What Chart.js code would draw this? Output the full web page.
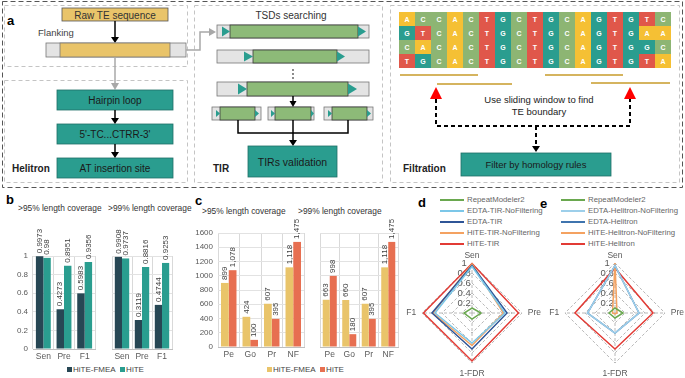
<!DOCTYPE html>
<html>
<head>
<meta charset="utf-8">
<script src="https://cdn.jsdelivr.net/npm/chart.js@4.4.0/dist/chart.umd.min.js"></script>
<style>
  body { margin: 0; background: #fff; }
  #fig { position: relative; width: 685px; height: 378px; background: #fff; overflow: hidden;
         font-family: "Liberation Sans", Arial, sans-serif; color: #333; }
  #fig canvas { position: absolute; }
  .t { position: absolute; white-space: nowrap; line-height: 1; }
  .pl { font-weight: bold; font-size: 13px; color: #000; }
  .ttl { font-size: 8.4px; color: #333; }
  .lg { font-size: 8px; color: #444; }
  .lg i { display: inline-block; width: 5px; height: 5px; margin-right: 1px; vertical-align: 0px; }
  .ll { font-size: 7.8px; color: #666; }
  .ll b { position: absolute; left: -27px; top: 3px; width: 24px; height: 1.5px; }
</style>
</head>
<body>
<div id="fig">
  <svg width="685" height="190" style="position:absolute;left:0;top:0" font-family="Liberation Sans, Arial, sans-serif">
    <rect x="2.5" y="1.5" width="680" height="186" fill="none" stroke="#555" stroke-width="1" stroke-dasharray="5 3"/>
    <g fill="none" stroke="#C4C4C4" stroke-width="1" stroke-dasharray="4 3">
      <rect x="4.5" y="5.5" width="183" height="61"/>
      <rect x="4.5" y="80.5" width="183" height="102"/>
      <rect x="194.5" y="5.5" width="188" height="177"/>
      <rect x="390.5" y="5.5" width="289" height="177"/>
    </g>
    <text x="7" y="25" font-size="13" font-weight="bold">a</text>
    <!-- raw TE -->
    <rect x="62" y="8" width="106" height="13" fill="#E9C46A" stroke="#555" stroke-width="0.8"/>
    <text x="115" y="18.5" font-size="10" text-anchor="middle" fill="#333">Raw TE sequence</text>
    <line x1="115" y1="21" x2="115" y2="37" stroke="#000" stroke-width="1.5"/>
    <polygon points="111,37 119,37 115,43" fill="#000"/>
    <text x="38" y="36" font-size="9.5" fill="#444">Flanking</text>
    <rect x="46" y="43" width="140" height="14" fill="#E4E4E4" stroke="#777" stroke-width="0.8"/>
    <rect x="60" y="43" width="110" height="14" fill="#E9C46A" stroke="#777" stroke-width="0.8"/>
    <line x1="115" y1="57" x2="115" y2="83" stroke="#A8A8A8" stroke-width="1.5"/>
    <polygon points="111,83 119,83 115,90" fill="#A8A8A8"/>
    <polyline points="186,50 200,50 200,32 209,32" fill="none" stroke="#A8A8A8" stroke-width="1.5"/>
    <polygon points="209,28 209,36 216,32" fill="#A8A8A8"/>
    <!-- helitron -->
    <g fill="#2A9D8F" stroke="#1E6F66" stroke-width="0.8">
      <rect x="57" y="90" width="116" height="20"/>
      <rect x="57" y="124" width="116" height="20"/>
      <rect x="57" y="158" width="116" height="20"/>
    </g>
    <g font-size="10" text-anchor="middle" fill="#1a1a1a">
      <text x="115" y="104">Hairpin loop</text>
      <text x="115" y="138">5'-TC...CTRR-3'</text>
      <text x="115" y="172">AT insertion site</text>
    </g>
    <line x1="115" y1="110" x2="115" y2="118" stroke="#000" stroke-width="1.5"/>
    <polygon points="111,118 119,118 115,124" fill="#000"/>
    <line x1="115" y1="144" x2="115" y2="152" stroke="#000" stroke-width="1.5"/>
    <polygon points="111,152 119,152 115,158" fill="#000"/>
    <text x="12" y="172" font-size="10" font-weight="bold" fill="#222">Helitron</text>
    <!-- TIR -->
    <text x="291" y="19" font-size="10" text-anchor="middle" fill="#333">TSDs searching</text>
    <g stroke="#777" stroke-width="0.8" fill="#E4E4E4">
      <rect x="217" y="25" width="152" height="13"/>
      <rect x="217" y="50" width="152" height="13"/>
      <rect x="217" y="82" width="152" height="14"/>
      <rect x="212" y="107" width="49" height="13"/>
      <rect x="268" y="107" width="46" height="13"/>
      <rect x="324" y="107" width="49" height="13"/>
    </g>
    <g stroke="#3A3A3A" stroke-width="0.8" fill="#8DBA78">
      <rect x="230" y="25" width="128" height="13"/>
      <rect x="253" y="50" width="84" height="13"/>
      <rect x="247" y="82" width="101" height="14"/>
      <rect x="220" y="107" width="35" height="13"/>
      <rect x="275" y="107" width="36" height="13"/>
      <rect x="332" y="107" width="35" height="13"/>
    </g>
    <g fill="#2A9D8F">
      <polygon points="222,26.5 222,36.5 230,31.5"/>
      <polygon points="358,26.5 358,36.5 366,31.5"/>
      <polygon points="244,51.5 244,61.5 253,56.5"/>
      <polygon points="337,51.5 337,61.5 345,56.5"/>
      <polygon points="238,83.5 238,94.5 247,89"/>
      <polygon points="348,83.5 348,94.5 357,89"/>
      <polygon points="216,110 216,117 220,113.5"/>
      <polygon points="255,110 255,117 259,113.5"/>
      <polygon points="271,110 271,117 275,113.5"/>
      <polygon points="311,110 311,117 314,113.5"/>
      <polygon points="328,110 328,117 332,113.5"/>
      <polygon points="367,110 367,117 371,113.5"/>
    </g>
    <g fill="#555"><circle cx="293" cy="70" r="0.9"/><circle cx="293" cy="74" r="0.9"/><circle cx="293" cy="78" r="0.9"/></g>
    <line x1="293" y1="96" x2="293" y2="101" stroke="#000" stroke-width="1.5"/>
    <polygon points="289.5,101 296.5,101 293,107" fill="#000"/>
    <polyline points="238,120 238,133 348,133 348,120" fill="none" stroke="#000" stroke-width="1.5"/>
    <line x1="293" y1="120" x2="293" y2="140" stroke="#000" stroke-width="1.5"/>
    <polygon points="289,140 297,140 293,146" fill="#000"/>
    <rect x="248" y="146" width="89" height="31" fill="#2A9D8F" stroke="#1E6F66" stroke-width="0.8"/>
    <text x="292.5" y="165.5" font-size="10.5" text-anchor="middle" fill="#1a1a1a">TIRs validation</text>
    <text x="213" y="172" font-size="10" font-weight="bold" fill="#222">TIR</text>
    <!-- filtration -->
    <g id="ntGrid"></g>
    <g stroke="#C79B2A" stroke-width="1.6">
      <line x1="400" y1="75" x2="478" y2="75"/>
      <line x1="437" y1="84" x2="512" y2="84"/>
      <line x1="545" y1="75" x2="623" y2="75"/>
      <line x1="591" y1="83" x2="670" y2="83"/>
    </g>
    <polygon points="430,99 442,99 436,87" fill="#FF0000"/>
    <polygon points="624,99 636,99 630,87" fill="#FF0000"/>
    <polyline points="436,99 436,126 630,126 630,99" fill="none" stroke="#000" stroke-width="2" stroke-dasharray="4 3"/>
    <line x1="536" y1="126" x2="536" y2="146" stroke="#000" stroke-width="2" stroke-dasharray="4 3"/>
    <polygon points="532,146 540,146 536,152" fill="#000"/>
    <g font-size="9.5" text-anchor="middle" fill="#222">
      <text x="539" y="103">Use sliding window to find</text>
      <text x="539" y="115">TE boundary</text>
    </g>
    <rect x="461" y="153" width="150" height="23" fill="#2A9D8F" stroke="#1E6F66" stroke-width="0.8"/>
    <text x="536" y="168" font-size="9.5" text-anchor="middle" fill="#1a1a1a">Filter by homology rules</text>
    <text x="403" y="172" font-size="10" font-weight="bold" fill="#222">Filtration</text>
  </svg>

  <!-- panel b -->
  <div class="t pl" style="left:6px;top:193px">b</div>
  <div class="t ttl" style="left:18px;top:204px">&gt;95% length coverage</div>
  <div class="t ttl" style="left:108px;top:204px">&gt;99% length coverage</div>
  <canvas id="b95" width="92" height="153" style="left:5px;top:210px"></canvas>
  <canvas id="b99" width="74" height="153" style="left:100px;top:210px"></canvas>
  <div class="t lg" style="left:67px;top:366px"><i style="background:#274754"></i>HiTE-FMEA&nbsp;&nbsp;<i style="background:#2A9D8F"></i>HiTE</div>

  <!-- panel c -->
  <div class="t pl" style="left:195px;top:194px">c</div>
  <div class="t ttl" style="left:202px;top:207px">&gt;95% length coverage</div>
  <div class="t ttl" style="left:298px;top:207px">&gt;99% length coverage</div>
  <canvas id="c95" width="116" height="146" style="left:190px;top:215px"></canvas>
  <canvas id="c99" width="92" height="146" style="left:308px;top:215px"></canvas>
  <div class="t lg" style="left:267px;top:366px"><i style="background:#E9C46A"></i>HiTE-FMEA&nbsp;&nbsp;<i style="background:#E76F51"></i>HiTE</div>

  <!-- panel d -->
  <div class="t pl" style="left:418px;top:196px">d</div>
  <div id="legD"></div>
  <canvas id="rd" width="138" height="138" style="left:405px;top:246px"></canvas>

  <!-- panel e -->
  <div class="t pl" style="left:540px;top:197px">e</div>
  <div id="legE"></div>
  <canvas id="re" width="138" height="138" style="left:548px;top:246px"></canvas>
</div>

<script>
// panel a: sequence alignment
const seqRows = ['ACCACTGCTGCAGTGTC', 'GTCACTGCTGCAGTGAA', 'CACACTGCTGCAGTGGC', 'TGCACTGCTGCAGTGTA'];
const ntColors = { A: '#F5C034', C: '#8DB573', G: '#2A9D8F', T: '#E0574A' };

// panel b
const bCats = ['Sen', 'Pre', 'F1'];
const b95Fmea = [0.9973, 0.4273, 0.5983];
const b95Hite = [0.98, 0.8951, 0.9356];
const b99Fmea = [0.9908, 0.3119, 0.4744];
const b99Hite = [0.9737, 0.8816, 0.9253];

// panel c
const cCats = ['Pe', 'Go', 'Pr', 'NF'];
const c95Fmea = [899, 424, 607, 1118];
const c95Hite = [1078, 100, 395, 1475];
const c99Fmea = [663, 660, 607, 1118];
const c99Hite = [998, 180, 395, 1475];

// panels d, e  (Sen, Pre, 1-FDR, F1)
const radarAxes = ['Sen', 'Pre', '1-FDR', 'F1'];
const dNames = ['RepeatModeler2', 'EDTA-TIR-NoFiltering', 'EDTA-TIR', 'HiTE-TIR-NoFiltering', 'HiTE-TIR'];
const dColors = ['#6AA84F', '#7CC7E8', '#2F5597', '#F4A261', '#E23B35'];
const dRM2 = [0.1, 0.18, 0.12, 0.16];
const dEdtaNoFilt = [0.93, 0.66, 0.6, 0.74];
const dEdta = [0.95, 0.7, 0.72, 0.8];
const dHiteNoFilt = [0.98, 0.63, 0.65, 0.78];
const dHite = [0.99, 0.93, 0.96, 0.97];
const eNames = ['RepeatModeler2', 'EDTA-Helitron-NoFiltering', 'EDTA-Helitron', 'HiTE-Helitron-NoFiltering', 'HiTE-Helitron'];
const eColors = ['#6AA84F', '#9DCFEA', '#3F74AE', '#F4A261', '#E23B35'];
const eRM2 = [0.1, 0.16, 0.1, 0.12];
const eEdtaNoFilt = [0.95, 0.48, 0.4, 0.55];
const eEdta = [0.95, 0.48, 0.4, 0.55];
const eHiteNoFilt = [1.0, 0.04, 0.02, 0.05];
const eHite = [0.9, 0.76, 0.72, 0.8];

const FONT = '"Liberation Sans", Arial, sans-serif';
Chart.defaults.font.family = FONT;

// draw the nucleotide grid
const NS = 'http://www.w3.org/2000/svg';
const grid = document.getElementById('ntGrid');
seqRows.forEach((row, r) => {
  row.split('').forEach((nt, c) => {
    const rect = document.createElementNS(NS, 'rect');
    rect.setAttribute('x', 399 + c * 16);
    rect.setAttribute('y', 12 + r * 14);
    rect.setAttribute('width', 16);
    rect.setAttribute('height', 14);
    rect.setAttribute('fill', ntColors[nt]);
    grid.appendChild(rect);
    const t = document.createElementNS(NS, 'text');
    t.setAttribute('x', 407 + c * 16);
    t.setAttribute('y', 21.5 + r * 14);
    t.setAttribute('font-size', '7');
    t.setAttribute('font-weight', 'bold');
    t.setAttribute('text-anchor', 'middle');
    t.setAttribute('fill', '#fff');
    t.textContent = nt;
    grid.appendChild(t);
  });
});

// rotated value labels above bars
const valueLabels = {
  id: 'valueLabels',
  afterDatasetsDraw(chart, args, opts) {
    const ctx = chart.ctx;
    ctx.save();
    ctx.font = '8px ' + FONT;
    ctx.fillStyle = '#404040';
    ctx.textAlign = 'left';
    ctx.textBaseline = 'middle';
    chart.data.datasets.forEach((ds, i) => {
      chart.getDatasetMeta(i).data.forEach((bar, j) => {
        const v = ds.data[j];
        const txt = opts.kind === 'int' ? v.toLocaleString('en-US') : String(v);
        ctx.save();
        ctx.translate(bar.x, bar.y - 3);
        ctx.rotate(-Math.PI / 2);
        ctx.fillText(txt, 0, 0);
        ctx.restore();
      });
    });
    ctx.restore();
  }
};

function barChart(id, cats, a, b, colors, yMax, step, showTicks, yWidth, padTop, kind) {
  new Chart(document.getElementById(id), {
    type: 'bar',
    data: {
      labels: cats,
      datasets: [
        { label: 'HiTE-FMEA', data: a, backgroundColor: colors[0], categoryPercentage: 0.72, barPercentage: 1 },
        { label: 'HiTE', data: b, backgroundColor: colors[1], categoryPercentage: 0.72, barPercentage: 1 }
      ]
    },
    options: {
      responsive: false,
      animation: false,
      layout: { padding: { top: padTop, right: 2 } },
      plugins: { legend: { display: false }, tooltip: { enabled: false }, valueLabels: { kind: kind } },
      scales: {
        x: {
          grid: { color: '#D9D9D9', drawTicks: false },
          border: { color: '#BFBFBF' },
          ticks: { padding: 3, color: '#595959', font: { size: 8.5 }, maxRotation: 0, minRotation: 0, autoSkip: false },
          afterFit(s) { s.height = 14; }
        },
        y: {
          min: 0, max: yMax,
          grid: { color: '#E2E2E2', drawTicks: false },
          border: { display: false },
          ticks: { display: showTicks, stepSize: step, padding: 5, color: '#595959', font: { size: 8 },
                   callback: (v) => String(v) },
          afterFit(s) { s.width = yWidth; }
        }
      }
    },
    plugins: [valueLabels]
  });
}

barChart('b95', bCats, b95Fmea, b95Hite, ['#274754', '#2A9D8F'], 1, 0.2, true, 28, 46, 'dec');
barChart('b99', bCats, b99Fmea, b99Hite, ['#274754', '#2A9D8F'], 1, 0.2, false, 12, 46, 'dec');
barChart('c95', cCats, c95Fmea, c95Hite, ['#E9C46A', '#E76F51'], 1600, 200, true, 28, 18, 'int');
barChart('c99', cCats, c99Fmea, c99Hite, ['#E9C46A', '#E76F51'], 1600, 200, false, 12, 18, 'int');

function legend(id, names, colors, left, top) {
  const box = document.getElementById(id);
  names.forEach((n, i) => {
    const d = document.createElement('div');
    d.className = 't ll';
    d.style.left = left + 'px';
    d.style.top = (top + i * 11) + 'px';
    d.innerHTML = '<b style="background:' + colors[i] + '"></b>' + n;
    box.appendChild(d);
  });
}
legend('legD', dNames, dColors, 467, 196);
legend('legE', eNames, eColors, 588, 196);

function radar(id, names, colors, values) {
  new Chart(document.getElementById(id), {
    type: 'radar',
    data: {
      labels: radarAxes,
      datasets: names.map((n, i) => ({
        label: n, data: values[i], borderColor: colors[i], borderWidth: 1.5,
        pointRadius: 0, fill: false, tension: 0
      }))
    },
    options: {
      responsive: false,
      animation: false,
      plugins: { legend: { display: false }, tooltip: { enabled: false } },
      scales: {
        r: {
          min: 0, max: 1,
          ticks: {
            stepSize: 0.2, color: '#595959', font: { size: 9.5 },
            showLabelBackdrop: false, backdropPadding: 0,
            callback: (v) => v + '      '
          },
          grid: { color: '#A6A6A6', lineWidth: 0.8 },
          border: { dash: [3, 2] },
          angleLines: { color: '#A6A6A6', lineWidth: 0.8, borderDash: [3, 2] },
          pointLabels: {
            color: '#595959', font: { size: 8.5 },
            padding: (ctx) => (ctx.index === 0 ? -3 : 1)
          }
        }
      }
    }
  });
}

radar('rd', dNames, dColors, [dRM2, dEdtaNoFilt, dEdta, dHiteNoFilt, dHite]);
radar('re', eNames, eColors, [eRM2, eEdtaNoFilt, eEdta, eHiteNoFilt, eHite]);
</script>
</body>
</html>
